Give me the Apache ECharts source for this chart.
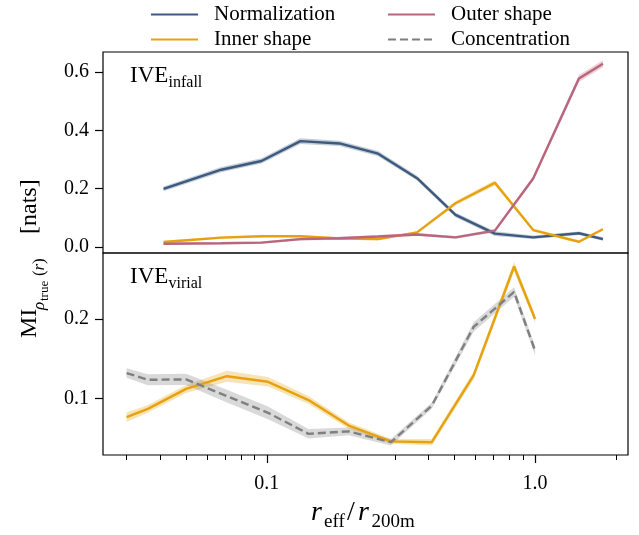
<!DOCTYPE html>
<html>
<head>
<meta charset="utf-8">
<script src="https://cdn.jsdelivr.net/npm/echarts@6/dist/echarts.min.js"></script>
<style>
html,body{margin:0;padding:0;background:#fff;}
#chart{width:639px;height:535px;}
</style>
</head>
<body>
<div id="chart"></div>
<script>
// ---------------- data ----------------
// top panel: IVE_infall
const xInfall = [0.0412, 0.0676, 0.0955, 0.1334, 0.1865, 0.26, 0.363, 0.505, 0.708, 0.984, 1.457, 1.79];
const normInfall  = [0.199, 0.265, 0.295, 0.363, 0.355, 0.320, 0.236, 0.110, 0.046, 0.033, 0.047, 0.027];
const innerInfall = [0.017, 0.032, 0.037, 0.037, 0.029, 0.027, 0.050, 0.150, 0.220, 0.058, 0.018, 0.061];
const outerInfall = [0.011, 0.013, 0.015, 0.027, 0.030, 0.036, 0.043, 0.033, 0.056, 0.235, 0.578, 0.628];
const normInfallErr  = [0.008, 0.009, 0.009, 0.010, 0.009, 0.009, 0.008, 0.008, 0.008, 0.006, 0.006, 0.006];
const innerInfallErr = [0.004, 0.004, 0.004, 0.004, 0.004, 0.004, 0.004, 0.007, 0.009, 0.005, 0.004, 0.004];
const outerInfallErr = [0.004, 0.004, 0.004, 0.005, 0.005, 0.005, 0.005, 0.005, 0.006, 0.008, 0.012, 0.012];
// bottom panel: IVE_virial
const xVirial = [0.030, 0.036, 0.050, 0.071, 0.101, 0.143, 0.202, 0.290, 0.412, 0.590, 0.835, 1.0];
const innerVirial = [0.0765, 0.0869, 0.112, 0.128, 0.121, 0.098, 0.066, 0.046, 0.045, 0.129, 0.266, 0.200];
const concVirial  = [0.1320, 0.1235, 0.124, 0.103, 0.082, 0.0555, 0.0586, 0.045, 0.091, 0.190, 0.234, 0.160];
const innerVirialErr = [0.006, 0.005, 0.005, 0.007, 0.006, 0.005, 0.004, 0.003, 0.004, 0.005, 0.006, 0.005];
const concVirialErr  = [0.006, 0.007, 0.007, 0.008, 0.008, 0.006, 0.005, 0.004, 0.004, 0.006, 0.006, 0.006];
// axes
const xMajorTicks = [0.1, 1.0];
const xMinorTicks = [0.03, 0.04, 0.05, 0.06, 0.07, 0.08, 0.09, 0.2, 0.3, 0.4, 0.5, 0.6, 0.7, 0.8, 0.9, 2.0];
const yTicksTop = [0.0, 0.2, 0.4, 0.6];
const yTicksBottom = [0.1, 0.2];
const X_MIN = 0.0245, X_MAX = 2.22;

const C_NORM = '#3d5a7e', C_INNER = '#e6a20e', C_OUTER = '#b9657c', C_CONC = '#7f7f7f';
const FONT = 'Liberation Serif';

// ---------------- helpers ----------------
const L = v => Math.log10(v);
function pairs(xs, ys) { return xs.map((x, i) => [L(x), ys[i]]); }
function band(xs, ys, err, color, gi) {
  return {
    type: 'custom', xAxisIndex: gi === 0 ? 0 : 1, yAxisIndex: gi, silent: true, z: 1,
    data: [[L(xs[0]), ys[0]]],
    renderItem: function (params, api) {
      const up = xs.map((x, i) => api.coord([L(x), ys[i] + err[i]]));
      const lo = xs.map((x, i) => api.coord([L(x), ys[i] - err[i]])).reverse();
      return { type: 'polygon', shape: { points: up.concat(lo) }, style: { fill: color, opacity: 0.3 } };
    }
  };
}
function line(name, xs, ys, color, gi, dashed) {
  return {
    type: 'line', name: name, xAxisIndex: gi === 0 ? 0 : 1, yAxisIndex: gi, z: 3,
    data: pairs(xs, ys), symbol: 'none', showSymbol: false,
    lineStyle: { color: color, width: 2.4, type: dashed ? [8, 4] : 'solid' },
    itemStyle: { color: color }
  };
}
// text placed by baseline
function txt(str, x, base, fs, extra) {
  return {
    type: 'text', x: x, y: base - 0.3375 * fs,
    style: Object.assign({ text: str, fontFamily: FONT, fontSize: fs, fill: '#000', verticalAlign: 'middle', align: 'left' }, extra || {})
  };
}

const chart = echarts.init(document.getElementById('chart'), null, { renderer: 'canvas' });

const gridBase = { left: 103, right: 11, show: true, borderColor: '#000', borderWidth: 1.2, backgroundColor: 'transparent', containLabel: false };
const legendBase = {
  itemWidth: 47, itemHeight: 14, itemGap: 0, selectedMode: false, padding: 0,
  itemStyle: { opacity: 0 },
  textStyle: { fontFamily: FONT, fontSize: 21, color: '#000', padding: [0, 0, 0, 11] }
};

const option = {
  animation: false,
  backgroundColor: '#fff',
  legend: [
    Object.assign({ data: ['Normalization'], left: 150, top: 4 }, legendBase),
    Object.assign({ data: ['Outer shape'], left: 387, top: 4 }, legendBase),
    Object.assign({ data: ['Inner shape'], left: 150, top: 29 }, legendBase),
    Object.assign({ data: ['Concentration'], left: 387, top: 29 }, legendBase)
  ],
  grid: [
    Object.assign({ top: 52, height: 201 }, gridBase),
    Object.assign({ top: 253, height: 202 }, gridBase)
  ],
  xAxis: [
    { gridIndex: 0, type: 'value', min: L(X_MIN), max: L(X_MAX), show: true,
      axisLine: { show: false, onZero: false }, axisTick: { show: false }, axisLabel: { show: false }, splitLine: { show: false } },
    { gridIndex: 1, type: 'value', min: L(X_MIN), max: L(X_MAX), position: 'bottom',
      axisLine: { show: false, onZero: false }, splitLine: { show: false },
      axisTick: { show: true, length: 8, lineStyle: { color: '#000', width: 1.2 }, customValues: xMajorTicks.map(L) },
      axisLabel: { show: true, margin: 19, fontFamily: FONT, fontSize: 20, color: '#000', customValues: xMajorTicks.map(L),
        formatter: v => (Math.pow(10, v)).toFixed(1) } },
    { gridIndex: 1, type: 'value', min: L(X_MIN), max: L(X_MAX), position: 'bottom',
      axisLine: { show: false, onZero: false }, splitLine: { show: false }, axisLabel: { show: false },
      axisTick: { show: true, length: 5, lineStyle: { color: '#000', width: 1 }, customValues: xMinorTicks.map(L) } }
  ],
  yAxis: [
    { gridIndex: 0, type: 'value', min: -0.0206, max: 0.6686, position: 'left',
      axisLine: { show: false, onZero: false }, splitLine: { show: false },
      axisTick: { show: true, length: 8, lineStyle: { color: '#000', width: 1.2 }, customValues: yTicksTop },
      axisLabel: { margin: 14, fontFamily: FONT, fontSize: 20, color: '#000', customValues: yTicksTop, formatter: v => v.toFixed(1) } },
    { gridIndex: 1, type: 'value', min: 0.0289, max: 0.283, position: 'left',
      axisLine: { show: false, onZero: false }, splitLine: { show: false },
      axisTick: { show: true, length: 8, lineStyle: { color: '#000', width: 1.2 }, customValues: yTicksBottom },
      axisLabel: { margin: 14, fontFamily: FONT, fontSize: 20, color: '#000', customValues: yTicksBottom, formatter: v => v.toFixed(1) } }
  ],
  series: [
    band(xInfall, normInfall, normInfallErr, C_NORM, 0),
    band(xInfall, innerInfall, innerInfallErr, C_INNER, 0),
    band(xInfall, outerInfall, outerInfallErr, C_OUTER, 0),
    band(xVirial, innerVirial, innerVirialErr, C_INNER, 1),
    band(xVirial, concVirial, concVirialErr, '#808080', 1),
    line('Normalization', xInfall, normInfall, C_NORM, 0, false),
    line('Inner shape', xInfall, innerInfall, C_INNER, 0, false),
    line('Outer shape', xInfall, outerInfall, C_OUTER, 0, false),
    line('Inner shape', xVirial, innerVirial, C_INNER, 1, false),
    line('Concentration', xVirial, concVirial, C_CONC, 1, true)
  ],
  graphic: [
    // panel labels
    txt('IVE', 130, 84, 23), txt('infall', 168.5, 88.5, 16),
    txt('IVE', 130, 285, 23), txt('virial', 168.5, 289.5, 16),
    // x-axis title
    txt('r', 311, 522, 28, { fontStyle: 'italic' }),
    txt('eff', 324, 528, 19),
    txt('/', 347, 522, 28),
    txt('r', 358, 522, 28, { fontStyle: 'italic' }),
    txt('200m', 371.5, 528, 19),
    // y-axis title (rotated)
    {
      type: 'group', x: 37.5, y: 338, rotation: Math.PI / 2,
      children: [
        txt('MI', 0, 0, 24),
        txt('ρ', 28, 7.5, 17, { fontStyle: 'italic' }),
        txt('true', 37, 11.5, 13),
        txt('(', 62, 7.5, 17),
        txt('r', 67.5, 7.5, 17, { fontStyle: 'italic' }),
        txt(')', 74, 7.5, 17),
        txt('[nats]', 104, 0, 24)
      ]
    }
  ]
};
chart.setOption(option);
</script>
</body>
</html>
